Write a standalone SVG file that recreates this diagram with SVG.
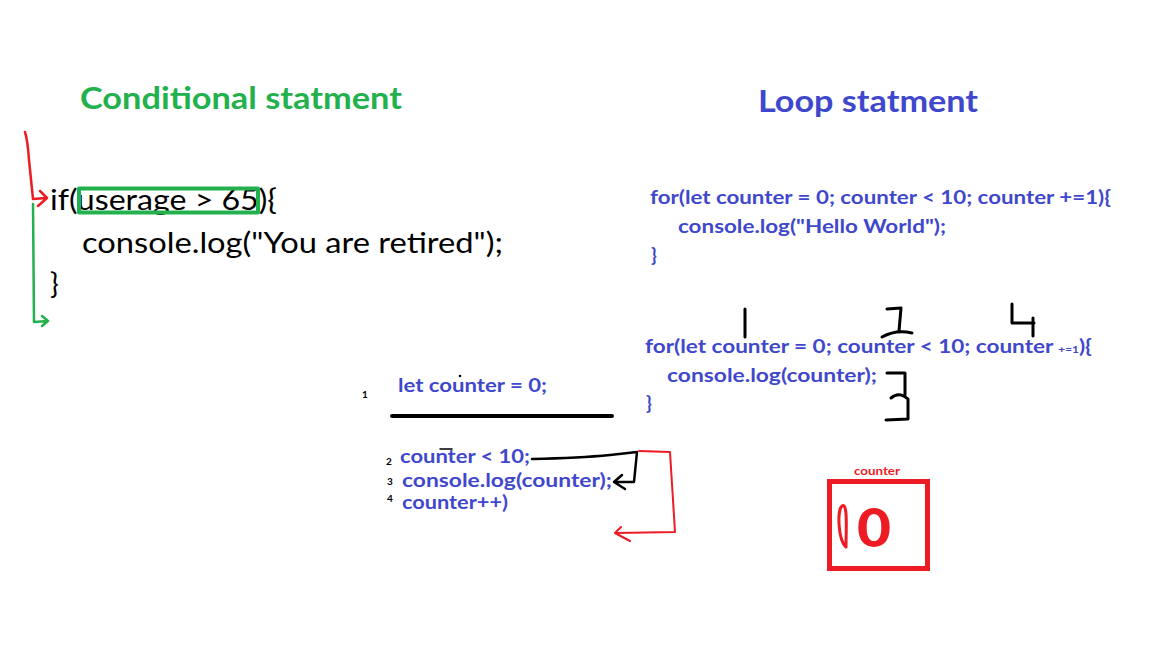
<svg xmlns="http://www.w3.org/2000/svg" width="1152" height="648" viewBox="0 0 1152 648">
  <style>
    .title { font-family: Lato, "Open Sans", "Liberation Sans", sans-serif; font-weight: 700; font-size: 31px; }
    .code { font-family: Lato, "Open Sans", "Liberation Sans", sans-serif; font-size: 29px; fill: #000; }
    .blue { font-family: Lato, "Open Sans", "Liberation Sans", sans-serif; font-weight: 700; font-size: 19px; fill: #3f48cc; }
    .num { font-family: Lato, "Liberation Sans", sans-serif; font-weight: 700; font-size: 10px; fill: #000; }
    .ink { fill: none; stroke-linecap: round; stroke-linejoin: round; }
    .black { stroke: #000; }
    .red { stroke: #ed1c24; }
    .green { stroke: #22b14c; }
  </style>
  <rect width="1152" height="648" fill="#fff"/>

  <!-- headings -->
  <text class="title" x="80" y="109" fill="#22b14c" textLength="322" lengthAdjust="spacingAndGlyphs">Conditional statment</text>
  <text class="title" x="758" y="112" fill="#3f48cc" textLength="220" lengthAdjust="spacingAndGlyphs">Loop statment</text>

  <!-- if block -->
  <g id="if-block">
    <text class="code" x="50" y="210" textLength="227" lengthAdjust="spacingAndGlyphs">if(userage &gt; 65){</text>
    <text class="code" x="82" y="253" textLength="421" lengthAdjust="spacingAndGlyphs">console.log("You are retired");</text>
    <text class="code" x="50" y="294">}</text>
    <rect x="79" y="188.5" width="179" height="24" class="ink green" stroke-width="4"/>
  </g>

  <!-- flow marks beside the if block -->
  <g id="if-flow">
    <path class="ink red" stroke-width="2.5" d="M25 132 C27 138 28 145 29 160 L33 199 L46 198 M40 191 L47 198 L38 206"/>
    <path class="ink green" stroke-width="2.5" d="M33 204 L34 322 L48 321 M42 316 L48 321 L42 326"/>
  </g>

  <!-- for loop, first example -->
  <g id="loop-hello">
    <text class="blue" x="650" y="204" textLength="461" lengthAdjust="spacingAndGlyphs">for(let counter = 0; counter &lt; 10; counter +=1){</text>
    <text class="blue" x="678" y="233" textLength="268" lengthAdjust="spacingAndGlyphs">console.log("Hello World");</text>
    <text class="blue" x="651" y="262">}</text>
  </g>

  <!-- for loop, second example with step numbers -->
  <g id="loop-counter">
    <text class="blue" x="645" y="353" textLength="447" lengthAdjust="spacingAndGlyphs">for(let counter = 0; counter &lt; 10; counter <tspan font-size="10">+=1</tspan>){</text>
    <text class="blue" x="667" y="382" textLength="210" lengthAdjust="spacingAndGlyphs">console.log(counter);</text>
    <text class="blue" x="646" y="410">}</text>
    <g class="ink black" stroke-width="3">
      <path d="M745 309 L745 337"/>
      <path d="M887 309 L901 308 L899 331 M882 337 Q896 329 912 333"/>
      <path d="M1012 304 L1012 323 L1034 323 M1033 318 L1033 336"/>
      <path d="M887 373 L905 373 L905 395 M891 398 Q899 391 908 399 L908 419 L886 420"/>
    </g>
  </g>

  <!-- unrolled loop steps -->
  <g id="loop-steps">
    <text class="num" x="362" y="398">1</text>
    <text class="blue" x="398" y="392" textLength="149" lengthAdjust="spacingAndGlyphs">let counter = 0;</text>
    <path class="ink black" stroke-width="4" d="M392 416 L612 416"/>
    <circle cx="460" cy="376" r="1.3" fill="#000"/>
    <text class="num" x="386" y="465">2</text>
    <text class="blue" x="400" y="463" textLength="130" lengthAdjust="spacingAndGlyphs">counter &lt; 10;</text>
    <path class="ink black" stroke-width="1.5" d="M440 449 L452 449"/>
    <text class="num" x="387" y="485">3</text>
    <text class="blue" x="402" y="487" textLength="210" lengthAdjust="spacingAndGlyphs">console.log(counter);</text>
    <text class="num" x="387" y="502">4</text>
    <text class="blue" x="402" y="509" textLength="106" lengthAdjust="spacingAndGlyphs">counter++)</text>
  </g>

  <!-- connectors between the steps -->
  <g id="connectors">
    <path class="ink black" stroke-width="2.5" d="M532 459 Q580 458 610 455 L637 452 L634 482 L616 482 M622 475 L614 482 L625 489"/>
    <path class="ink red" stroke-width="2" d="M639 451 L670 452 L675 532 L616 533 M621 527 L615 533 L630 541"/>
  </g>

  <!-- counter variable box -->
  <g id="counter-box">
    <text x="854" y="475" font-family="Lato, 'Liberation Sans', sans-serif" font-weight="700" font-size="11" fill="#ed1c24" textLength="46" lengthAdjust="spacingAndGlyphs">counter</text>
    <rect x="829.5" y="481.5" width="98" height="87" fill="none" stroke="#ed1c24" stroke-width="5"/>
    <text x="857" y="547" font-family="Lato, 'Liberation Sans', sans-serif" font-weight="900" font-size="54" fill="#ed1c24" textLength="34" lengthAdjust="spacingAndGlyphs">0</text>
    <path class="ink red" stroke-width="3" d="M846 547 C838 540 837 510 842 506 C848 502 846 530 846 547"/>
  </g>
</svg>
